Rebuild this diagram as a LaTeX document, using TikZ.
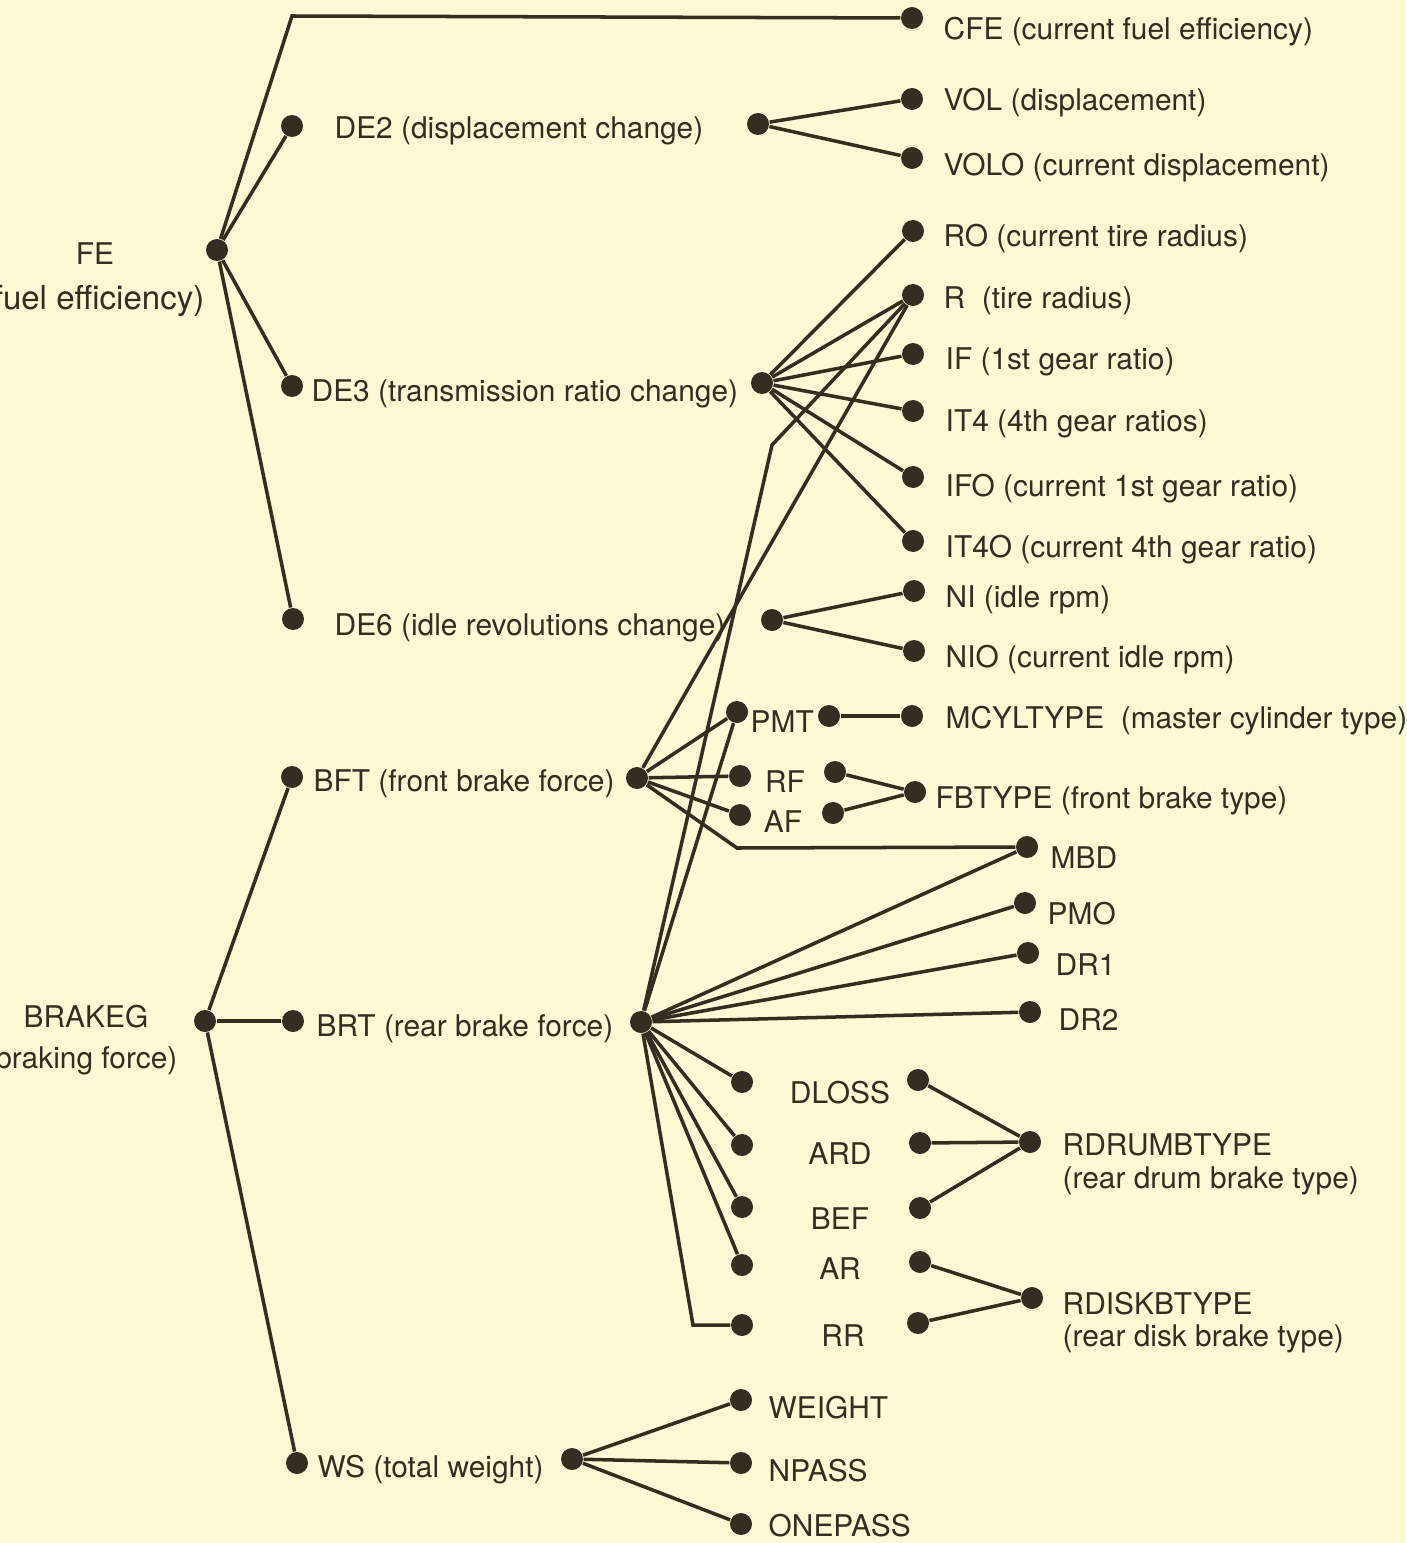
\documentclass[tikz,border=0pt]{standalone}
\usepackage{fontspec}
\setmainfont{TeX Gyre Heros}
\usepackage{tikz}
\definecolor{paper}{RGB}{252,249,212}
\definecolor{ink}{RGB}{52,45,34}
\tikzset{
  dot/.style={circle,fill=ink,inner sep=0pt,minimum size=2.2mm},
  txt/.style={anchor=west,inner sep=0pt,yshift=-0.35mm,text=ink,font=\fontsize{8.5pt}{9.2pt}\selectfont},
  ctxt/.style={txt,anchor=center,align=center},
  big/.style={font=\fontsize{9.4pt}{10pt}\selectfont}
}

\begin{document}
\begin{tikzpicture}[x=0.1mm,y=-0.1mm,a/.style={draw=ink,line width=1pt}]
\clip (0,0) rectangle (1406,1543);
\fill[paper] (0,0) rectangle (1406,1543);
% fuel efficiency branch
\node[dot] (fe) at (217,250) {};
\node[ctxt] (fe-t) at (95,250) {FE};
\node[txt,big,anchor=east] (fe-t2) at (205,298) {(fuel efficiency)};
\node[dot] (cfe) at (912,18) {};
\node[dot] (de2) at (292,126) {};
\node[dot] (de2-o) at (758,124) {};
\node[dot] (vol) at (912,99) {};
\node[dot] (volo) at (912,158) {};
\node[dot] (de3) at (292,386) {};
\node[dot] (de3-o) at (762,383) {};
\node[dot] (ro) at (913,231) {};
\node[dot] (r) at (913,295) {};
\node[dot] (if1) at (913,354) {};
\node[dot] (it4) at (913,411) {};
\node[dot] (ifo) at (913,477) {};
\node[dot] (it4o) at (913,541) {};
\node[dot] (de6) at (293,619) {};
\node[dot] (de6-o) at (772,620) {};
\node[dot] (ni) at (914,591) {};
\node[dot] (nio) at (914,651) {};
\node[txt] (cfe-t) at (943,28) {CFE (current fuel efficiency)};
\node[txt] (de2-t) at (334,127) {DE2 (displacement change)};
\node[txt] (vol-t) at (943,99) {VOL (displacement)};
\node[txt] (volo-t) at (943,164) {VOLO (current displacement)};
\node[txt] (de3-t) at (311,390) {DE3 (transmission ratio change)};
\node[txt] (ro-t) at (943,235) {RO (current tire radius)};
\node[txt] (r-t) at (943,297) {R~ (tire radius)};
\node[txt] (if1-t) at (945,358) {IF (1st gear ratio)};
\node[txt] (it4-t) at (945,420) {IT4 (4th gear ratios)};
\node[txt] (ifo-t) at (945,485) {IFO (current 1st gear ratio)};
\node[txt] (it4o-t) at (945,546) {IT4O (current 4th gear ratio)};
\node[txt] (de6-t) at (334,624) {DE6 (idle revolutions change)};
\node[txt] (ni-t) at (945,596) {NI (idle rpm)};
\node[txt] (nio-t) at (945,656) {NIO (current idle rpm)};
% braking force branch
\node[dot] (brakeg) at (205,1021) {};
\node[ctxt] (brakeg-t) at (86,1013) {BRAKEG};
\node[txt,anchor=east] (brakeg-t2) at (178,1057) {(braking force)};
\node[dot] (bft) at (292,777) {};
\node[dot] (bft-o) at (637,778) {};
\node[dot] (brt) at (293,1021) {};
\node[dot] (brt-o) at (641,1022) {};
\node[dot] (pmt) at (737,712) {};
\node[dot] (pmt-o) at (829,716) {};
\node[dot] (mcyl) at (912,716) {};
\node[dot] (rf) at (740,776) {};
\node[dot] (rf-o) at (835,772) {};
\node[dot] (af) at (740,815) {};
\node[dot] (af-o) at (833,813) {};
\node[dot] (fbtype) at (915,792) {};
\node[dot] (mbd) at (1027,847) {};
\node[dot] (pmo) at (1025,903) {};
\node[dot] (dr1) at (1028,953) {};
\node[dot] (dr2) at (1030,1012) {};
\node[dot] (dloss) at (742,1082) {};
\node[dot] (dloss-o) at (918,1080) {};
\node[dot] (ard) at (742,1145) {};
\node[dot] (ard-o) at (920,1143) {};
\node[dot] (bef) at (742,1207) {};
\node[dot] (bef-o) at (920,1208) {};
\node[dot] (ar) at (742,1265) {};
\node[dot] (ar-o) at (920,1262) {};
\node[dot] (rr) at (742,1325) {};
\node[dot] (rr-o) at (918,1323) {};
\node[dot] (rdrum) at (1030,1142) {};
\node[dot] (rdisk) at (1032,1298) {};
\node[txt] (bft-t) at (313,780) {BFT (front brake force)};
\node[txt] (brt-t) at (316,1025) {BRT (rear brake force)};
\node[txt] (pmt-t) at (750,718) {PMT};
\node[txt] (mcyl-t) at (945,717) {MCYLTYPE~ (master cylinder type)};
\node[ctxt] (rf-t) at (785,778) {RF};
\node[ctxt] (af-t) at (783,818) {AF};
\node[txt] (fbtype-t) at (935,797) {FBTYPE (front brake type)};
\node[txt] (mbd-t) at (1050,854) {MBD};
\node[txt] (pmo-t) at (1047,910) {PMO};
\node[txt] (dr1-t) at (1055,961) {DR1};
\node[txt] (dr2-t) at (1058,1016) {DR2};
\node[ctxt] (dloss-t) at (840,1089) {DLOSS};
\node[ctxt] (ard-t) at (840,1150) {ARD};
\node[ctxt] (bef-t) at (840,1215) {BEF};
\node[ctxt] (ar-t) at (840,1265) {AR};
\node[ctxt] (rr-t) at (843,1332) {RR};
\node[txt,align=left] (rdrum-t) at (1062,1161) {RDRUMBTYPE\\(rear drum brake type)};
\node[txt,align=left] (rdisk-t) at (1062,1319) {RDISKBTYPE\\(rear disk brake type)};
% total weight
\node[dot] (ws) at (297,1463) {};
\node[dot] (ws-o) at (572,1459) {};
\node[dot] (weight) at (741,1400) {};
\node[dot] (npass) at (741,1463) {};
\node[dot] (onepass) at (741,1524) {};
\node[txt] (ws-t) at (317,1466) {WS (total weight)};
\node[txt] (weight-t) at (768,1404) {WEIGHT};
\node[txt] (npass-t) at (768,1467) {NPASS};
\node[txt] (onepass-t) at (768,1522) {ONEPASS};
% bends
\coordinate (cfe-k) at (292,16);
\coordinate (r-k) at (772,445);
\coordinate (mbd-k) at (737,848);
\coordinate (rr-k) at (693,1325);
% connectors
\draw[a] (fe)--(cfe-k)--(cfe); \draw[a] (fe)--(de2); \draw[a] (fe)--(de3); \draw[a] (fe)--(de6);
\draw[a] (de2-o)--(vol); \draw[a] (de2-o)--(volo);
\foreach \t in {ro,r,if1,it4,ifo,it4o} \draw[a] (de3-o)--(\t);
\draw[a] (de6-o)--(ni); \draw[a] (de6-o)--(nio);
\draw[a] (brakeg)--(bft); \draw[a] (brakeg)--(brt); \draw[a] (brakeg)--(ws);
\draw[a] (bft-o)--(r); \draw[a] (bft-o)--(pmt); \draw[a] (bft-o)--(rf); \draw[a] (bft-o)--(af);
\draw[a] (bft-o)--(mbd-k)--(mbd);
\draw[a] (brt-o)--(r-k)--(r); \draw[a] (brt-o)--(rr-k)--(rr);
\foreach \t in {pmt,mbd,pmo,dr1,dr2,dloss,ard,bef,ar} \draw[a] (brt-o)--(\t);
\draw[a] (pmt-o)--(mcyl); \draw[a] (rf-o)--(fbtype); \draw[a] (af-o)--(fbtype);
\draw[a] (dloss-o)--(rdrum); \draw[a] (ard-o)--(rdrum); \draw[a] (bef-o)--(rdrum);
\draw[a] (ar-o)--(rdisk); \draw[a] (rr-o)--(rdisk);
\draw[a] (ws-o)--(weight); \draw[a] (ws-o)--(npass); \draw[a] (ws-o)--(onepass);
\end{tikzpicture}
\end{document}
